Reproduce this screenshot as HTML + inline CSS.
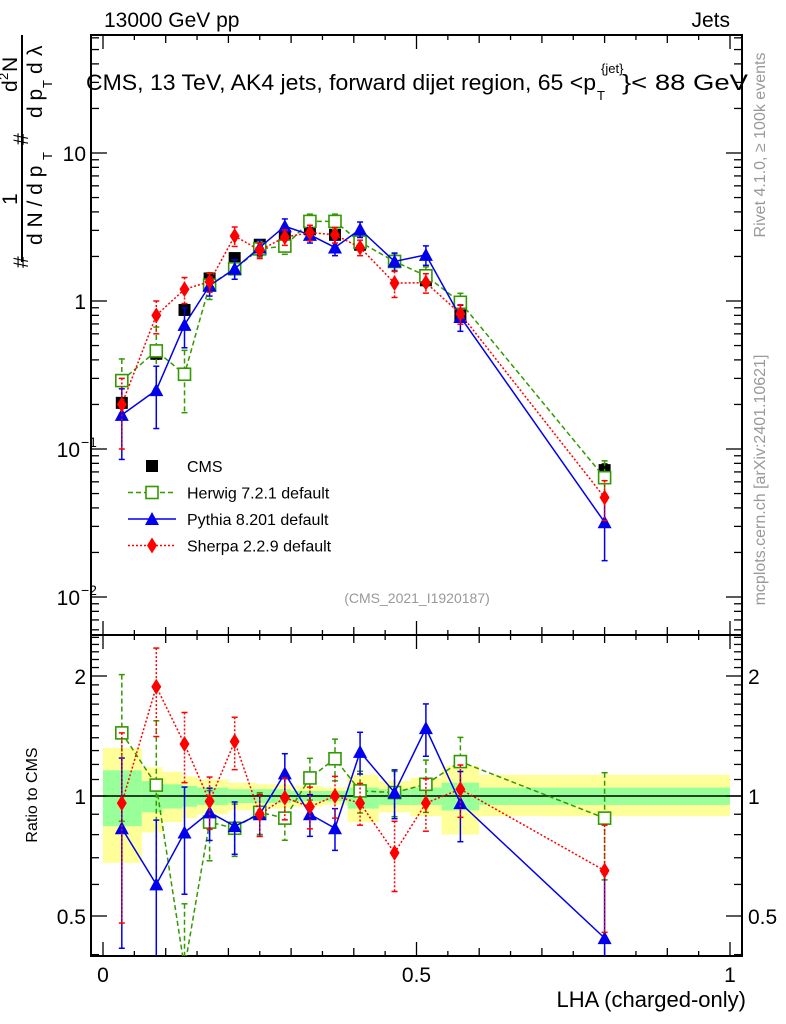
<!DOCTYPE html>
<html><head><meta charset="utf-8">
<style>
body{margin:0;background:#fff;}
svg{display:block;font-family:"Liberation Sans",sans-serif;}
</style></head>
<body>
<svg id="c" width="786" height="1024" viewBox="0 0 786 1024" xmlns="http://www.w3.org/2000/svg"></svg>
<script>
const lha=[0.03,0.085,0.13,0.17,0.21,0.25,0.29,0.33,0.37,0.41,0.465,0.515,0.57,0.8];
const cmsVals=[0.205,0.44,0.87,1.42,1.95,2.4,2.75,3.05,2.8,2.4,1.85,1.38,0.8,0.072];
const herwigVals=[0.29,0.46,0.32,1.28,1.65,2.25,2.35,3.45,3.45,2.5,1.85,1.48,0.98,0.064];
const pythiaVals=[0.17,0.25,0.69,1.27,1.65,2.3,3.2,2.8,2.3,3.05,1.85,2.05,0.78,0.032];
const sherpaVals=[0.2,0.8,1.2,1.35,2.75,2.2,2.7,2.9,2.8,2.3,1.32,1.33,0.82,0.047];
const herwigRatio=[1.44,1.065,0.37,0.86,0.83,0.91,0.88,1.11,1.24,1.03,1.02,1.07,1.22,0.88];
const pythiaRatio=[0.83,0.6,0.81,0.91,0.84,0.9,1.14,0.9,0.83,1.29,1.02,1.48,0.96,0.44];
const sherpaRatio=[0.96,1.88,1.35,0.97,1.37,0.9,0.99,0.94,1.0,0.96,0.72,0.96,1.04,0.65];
const herwigErr=[0.4,0.45,0.45,0.2,0.15,0.12,0.12,0.12,0.12,0.12,0.13,0.15,0.15,0.3];
const pythiaErr=[0.5,0.45,0.3,0.15,0.15,0.12,0.12,0.12,0.12,0.12,0.14,0.15,0.2,0.45];
const sherpaErr=[0.5,0.25,0.2,0.15,0.15,0.12,0.12,0.12,0.12,0.12,0.2,0.15,0.15,0.3];
const cmsErr=[0.08,0.08,0.06,0.06,0.05,0.05,0.05,0.05,0.05,0.05,0.05,0.06,0.07,0.1];
const binEdges=[0,0.062,0.095,0.127,0.15,0.2,0.245,0.3,0.35,0.39,0.44,0.49,0.54,0.6,1.0];
const yelHi=[1.32,1.18,1.15,1.12,1.1,1.08,1.07,1.06,1.05,1.13,1.09,1.11,1.19,1.13];
const yelLo=[0.68,0.81,0.86,0.88,0.9,0.92,0.93,0.94,0.95,0.86,0.91,0.89,0.8,0.89];
const grnHi=[1.16,1.09,1.07,1.06,1.05,1.04,1.04,1.03,1.03,1.05,1.04,1.05,1.08,1.05];
const grnLo=[0.84,0.91,0.93,0.94,0.95,0.96,0.96,0.97,0.97,0.93,0.95,0.95,0.92,0.95];

const L=91,R=742,T=35,M=635,B=956;
const X=v=>103+v*627;
const Y=v=>301-Math.log10(v)*148;
const RY=v=>796-Math.log2(v)*120;
const svg=document.getElementById('c');
const NS='http://www.w3.org/2000/svg';
function mk(tag,at,parent){const e=document.createElementNS(NS,tag);for(const k in at)e.setAttribute(k,at[k]);(parent||svg).appendChild(e);return e;}
function txt(s,at,parent){const e=mk('text',at,parent);e.textContent=s;return e;}

const defs=mk('defs',{});
const cp1=mk('clipPath',{id:'cTop'},defs);mk('rect',{x:L,y:T,width:R-L,height:M-T},cp1);
const cp2=mk('clipPath',{id:'cBot'},defs);mk('rect',{x:L,y:M,width:R-L,height:B-M},cp2);

const gBand=mk('g',{'clip-path':'url(#cBot)'});


for(let i=0;i<yelHi.length;i++){
  const x1=X(binEdges[i]),x2=X(binEdges[i+1]);
  const y=mk('rect',{x:x1,y:RY(yelHi[i]),width:x2-x1,height:RY(yelLo[i])-RY(yelHi[i]),fill:'#ffff99'},gBand);
  
  
  const g=mk('rect',{x:x1,y:RY(grnHi[i]),width:x2-x1,height:RY(grnLo[i])-RY(grnHi[i]),fill:'#99ff99'},gBand);
  
  
}
const one=mk('line',{x1:L,x2:R,y1:RY(1),y2:RY(1),stroke:'#000','stroke-width':1.5});



const f1=mk('rect',{x:L,y:T,width:R-L,height:M-T,fill:'none',stroke:'#000','stroke-width':2});

const f2=mk('rect',{x:L,y:M,width:R-L,height:B-M,fill:'none',stroke:'#000','stroke-width':2});


for(let k=0;k<=20;k++){
  const v=k*0.05,x=X(v),big=k%10===0,mid=k%2===0;
  const len=big?14:(mid?8:5);
  [[T,1],[M,1],[M,-1],[B,-1]].forEach(([y0,d])=>mk('line',{x1:x,x2:x,y1:y0,y2:y0+d*len,stroke:'#000','stroke-width':1.3}));
}
['0','0.5','1'].forEach((s,i)=>{const t=txt(s,{x:X(i*0.5),y:982,'font-size':21,'text-anchor':'middle'});});

for(let d=-3;d<=1;d++){for(let m=1;m<=9;m++){const v=m*Math.pow(10,d);const y=Y(v);if(y<T||y>M)continue;const len=m===1?16:8;
 mk('line',{x1:L,x2:L+len,y1:y,y2:y,stroke:'#000','stroke-width':1.3});mk('line',{x1:R,x2:R-len,y1:y,y2:y,stroke:'#000','stroke-width':1.3});}}
[['10',153],['1',301]].forEach(([s,y])=>{const t=txt(s,{x:86,y:y+8,'font-size':21,'text-anchor':'end'});});
[['10',-1],['10',-2]].forEach(([s,e])=>{const t=txt(s,{x:80,y:Y(Math.pow(10,e))+8,'font-size':21,'text-anchor':'end'});
 txt('−'+(-e),{x:81,y:Y(Math.pow(10,e))-2,'font-size':14});});

const rt=[0.4,0.5,0.6,0.7,0.8,0.9,1,1.1,1.2,1.3,1.4,1.5,1.6,1.7,1.8,1.9,2,2.1,2.2,2.3,2.4,2.5];
rt.forEach(v=>{const y=RY(v);if(y<M||y>B)return;const len=(v===0.5||v===1||v===2)?16:8;
 mk('line',{x1:L,x2:L+len,y1:y,y2:y,stroke:'#000','stroke-width':1.3});mk('line',{x1:R,x2:R-len,y1:y,y2:y,stroke:'#000','stroke-width':1.3});});
[['2',2],['1',1],['0.5',0.5]].forEach(([s,v])=>{
 const a=txt(s,{x:86,y:RY(v)+8,'font-size':21,'text-anchor':'end'});
 const b=txt(s,{x:748,y:RY(v)+8,'font-size':21});});

function marker(type,x,y,col,g){
 if(type==='sq')return mk('rect',{x:x-6,y:y-6,width:12,height:12,fill:'#000'},g);
 if(type==='osq')return mk('rect',{x:x-6,y:y-6,width:12,height:12,fill:'#fff',stroke:col,'stroke-width':1.6},g);
 if(type==='tri')return mk('polygon',{points:`${x},${y-7} ${x-7},${y+6} ${x+7},${y+6}`,fill:col},g);
 return mk('polygon',{points:`${x},${y-8} ${x+5},${y} ${x},${y+8} ${x-5},${y}`,fill:col},g);
}
function series(name,vals,errs,col,dash,type,yf,clip,drawLine){
 const g=mk('g',{'clip-path':clip});
 
 
 if(drawLine){const pts=lha.map((x,i)=>X(x)+','+yf(vals[i])).join(' ');
  mk('polyline',{points:pts,fill:'none',stroke:col,'stroke-width':1.5,'stroke-dasharray':dash},g);}
 lha.forEach((x,i)=>{const v=vals[i],e=errs[i];const y1=yf(v*(1+e)),y2=yf(Math.max(v*(1-e),1e-4));
  mk('line',{x1:X(x),x2:X(x),y1:y1,y2:y2,stroke:col,'stroke-width':1.5,'stroke-dasharray':dash},g);
  mk('line',{x1:X(x)-3,x2:X(x)+3,y1:y1,y2:y1,stroke:col,'stroke-width':1.5},g);
  mk('line',{x1:X(x)-3,x2:X(x)+3,y1:y2,y2:y2,stroke:col,'stroke-width':1.5},g);
  marker(type,X(x),yf(v),col,g);});
}
series('cms-data',cmsVals,cmsErr,'#000','','sq',Y,'url(#cTop)',false);
series('herwig-series',herwigVals,herwigErr,'#339900','5,3','osq',Y,'url(#cTop)',true);
series('pythia-series',pythiaVals,pythiaErr,'#0000ee','','tri',Y,'url(#cTop)',true);
series('sherpa-series',sherpaVals,sherpaErr,'#ff0000','2,2','dia',Y,'url(#cTop)',true);
series('herwig-ratio',herwigRatio,herwigErr,'#339900','5,3','osq',RY,'url(#cBot)',true);
series('pythia-ratio',pythiaRatio,pythiaErr,'#0000ee','','tri',RY,'url(#cBot)',true);
series('sherpa-ratio',sherpaRatio,sherpaErr,'#ff0000','2,2','dia',RY,'url(#cBot)',true);

const lg=mk('g',{});
const le=[['CMS','sq','#000',''],['Herwig 7.2.1 default','osq','#339900','5,3'],['Pythia 8.201 default','tri','#0000ee',''],['Sherpa 2.2.9 default','dia','#ff0000','2,2']];
le.forEach(([s,t,c,d],i)=>{const y=466+i*26.5;const e=mk('g',{},lg);
 if(i>0)mk('line',{x1:128,x2:176,y1:y,y2:y,stroke:c,'stroke-width':1.5,'stroke-dasharray':d},e);
 marker(t,152,y,c,e);txt(s,{x:187,y:y+6,'font-size':16},e);});

function T2(s,at,name){const t=txt(s,at);return t;}
T2('13000 GeV pp',{x:104,y:27,'font-size':21},'beam-label');
T2('Jets',{x:730,y:27,'font-size':21,'text-anchor':'end'},'process-label');
T2('CMS, 13 TeV, AK4 jets, forward dijet region, 65 <p',{x:86,y:90,'font-size':22,textLength:510,lengthAdjust:'spacingAndGlyphs'},'plot-title');
T2('T',{x:597,y:100,'font-size':13},'title-sub');
T2('{jet}',{x:601,y:73,'font-size':13},'title-sup');
T2('}< 88 GeV',{x:622,y:90,'font-size':22,textLength:126,lengthAdjust:'spacingAndGlyphs'},'title-end');
T2('(CMS_2021_I1920187)',{x:417,y:603,'font-size':14,fill:'#999','text-anchor':'middle'},'analysis-id');
T2('LHA (charged-only)',{x:746,y:1007,'font-size':22,'text-anchor':'end'},'x-axis-title');
T2('Ratio to CMS',{x:0,y:0,'font-size':16,'text-anchor':'middle',transform:'translate(37,795) rotate(-90)'},'ratio-y-axis-title');
T2('Rivet 4.1.0, ≥ 100k events',{x:0,y:0,'font-size':16,fill:'#999','text-anchor':'middle',transform:'translate(765,145) rotate(-90)'},'rivet-version');
T2('mcplots.cern.ch [arXiv:2401.10621]',{x:0,y:0,'font-size':16,fill:'#999','text-anchor':'middle',transform:'translate(765,480) rotate(-90)'},'mcplots-credit');
const ya=mk('g',{});
mk('line',{x1:22,x2:22,y1:262,y2:35,stroke:'#000','stroke-width':2},ya);
txt('#',{x:0,y:0,'font-size':21,transform:'translate(28,268) rotate(-90)'},ya);
txt('1',{x:0,y:0,'font-size':21,transform:'translate(17,205) rotate(-90)'},ya);
txt('d N / d p',{x:0,y:0,'font-size':21,transform:'translate(42,245) rotate(-90)'},ya);
txt('T',{x:0,y:0,'font-size':13,transform:'translate(52,160) rotate(-90)'},ya);
txt('#',{x:0,y:0,'font-size':21,transform:'translate(28,145) rotate(-90)'},ya);
txt('d',{x:0,y:0,'font-size':21,transform:'translate(17,92) rotate(-90)'},ya);
txt('2',{x:0,y:0,'font-size':13,transform:'translate(8,80) rotate(-90)'},ya);
txt('N',{x:0,y:0,'font-size':21,transform:'translate(17,72) rotate(-90)'},ya);
txt('d p',{x:0,y:0,'font-size':21,transform:'translate(42,118) rotate(-90)'},ya);
txt('T',{x:0,y:0,'font-size':13,transform:'translate(52,88) rotate(-90)'},ya);
txt('d',{x:0,y:0,'font-size':21,transform:'translate(42,74) rotate(-90)'},ya);
txt('λ',{x:0,y:0,'font-size':21,transform:'translate(42,56) rotate(-90)'},ya);
</script>
</body></html>
